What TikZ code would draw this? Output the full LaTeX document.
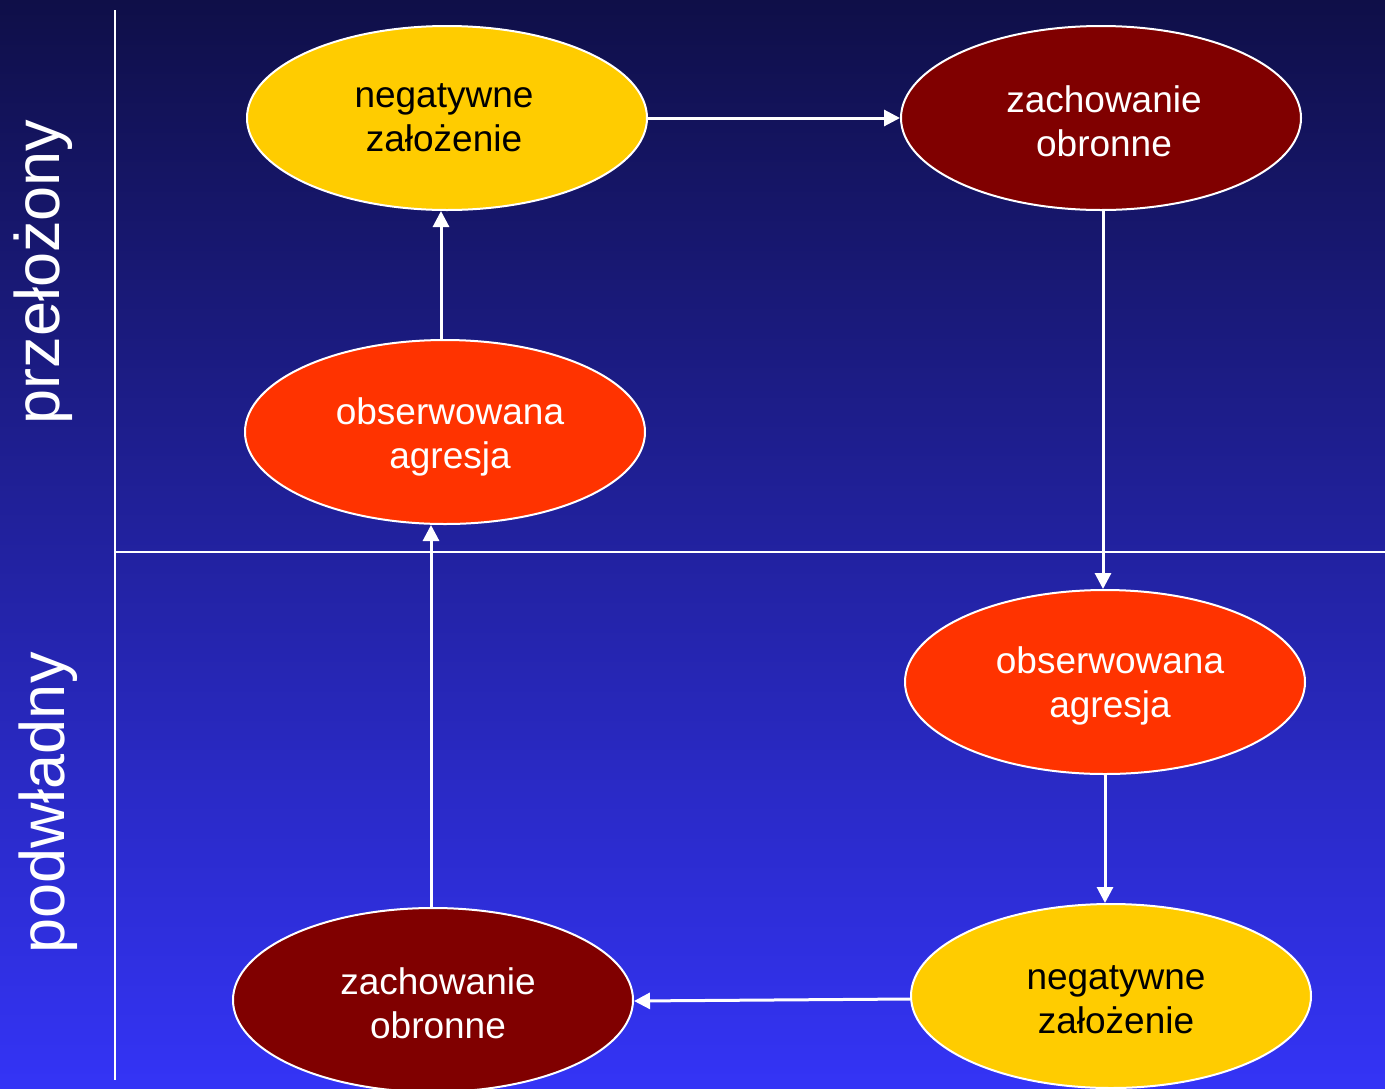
\documentclass[tikz,border=0pt]{standalone}
\usepackage{fontspec}
\setmainfont{Liberation Sans}
\usetikzlibrary{shapes.geometric,arrows.meta,calc}
\definecolor{bgtop}{HTML}{0F0F48}
\definecolor{bgmid}{HTML}{2424BC}
\definecolor{bgbot}{HTML}{3434F6}
\definecolor{yel}{HTML}{FFCC00}
\definecolor{maroon}{HTML}{800000}
\definecolor{redorange}{HTML}{FF3300}
\tikzset{
  oval/.style={ellipse, draw=white, line width=2pt, minimum width=400pt, minimum height=184pt, inner sep=0pt},
  ovaltext/.style={align=center, inner sep=0pt, font=\fontsize{37}{44}\selectfont},
  yellowoval/.style={oval, fill=yel},
  maroonoval/.style={oval, fill=maroon},
  redoval/.style={oval, fill=redorange},
  conn/.style={draw=white, line width=3pt, -{Triangle[length=16pt,width=16pt]}},
  divider/.style={draw=white, line width=1.6pt},
  sidelabel/.style={text=white, rotate=90, font=\fontsize{63}{70}\selectfont}
}
\begin{document}
\begin{tikzpicture}[x=1pt,y=-1pt]
\useasboundingbox (0,0) rectangle (1385,1088);
\shade[top color=bgtop, middle color=bgmid, bottom color=bgbot] (0,0) rectangle (1385,1088);
% dividers
\coordinate (vtop) at (115,10);
\coordinate (vbot) at (115,1080);
\coordinate (hl) at (115,552);
\coordinate (hr) at (1385,552);
\draw[divider] (vtop) -- (vbot);
\draw[divider] (hl) -- (hr);
% side labels
\node[sidelabel] (sup) at (43,272) {przełożony};
\node[sidelabel] (sub) at (48,803) {podwładny};
% ovals
\node[yellowoval] (negT) at (447,118) {};
\node[maroonoval] (zachT) at (1101,118) {};
\node[redoval] (obsT) at (445,432) {};
\node[redoval] (obsB) at (1105,682) {};
\node[yellowoval] (negB) at (1111,996) {};
\node[maroonoval] (zachB) at (433,1000) {};
% texts
\node[ovaltext, text=black] (negTt) at ($(negT)+(-3,0)$) {negatywne\\założenie};
\node[ovaltext, text=white] (zachTt) at ($(zachT)+(3,3)$) {zachowanie\\obronne};
\node[ovaltext, text=white] (obsTt) at ($(obsT)+(5,5)$) {obserwowana\\agresja};
\node[ovaltext, text=white] (obsBt) at ($(obsB)+(5,4)$) {obserwowana\\agresja};
\node[ovaltext, text=black] (negBt) at ($(negB)+(5,4)$) {negatywne\\założenie};
\node[ovaltext, text=white] (zachBt) at ($(zachB)+(5,3)$) {zachowanie\\obronne};
% connectors
\draw[conn] (negT.east) -- (zachT.west);
\draw[conn] ([xshift=2pt]zachT.south) -- ([xshift=-2pt]obsB.north);
\draw[conn] (obsB.south) -- (obsB.south |- negB.north);
\draw[conn] ([yshift=-3pt]negB.west) -- ([yshift=-1pt]zachB.east);
\draw[conn] ([xshift=-2pt]zachB.north) -- ([xshift=-2pt]zachB.north |- obsT.south);
\draw[conn] ([xshift=-4pt]obsT.north) -- ([xshift=-4pt]obsT.north |- negT.south);
\end{tikzpicture}
\end{document}
